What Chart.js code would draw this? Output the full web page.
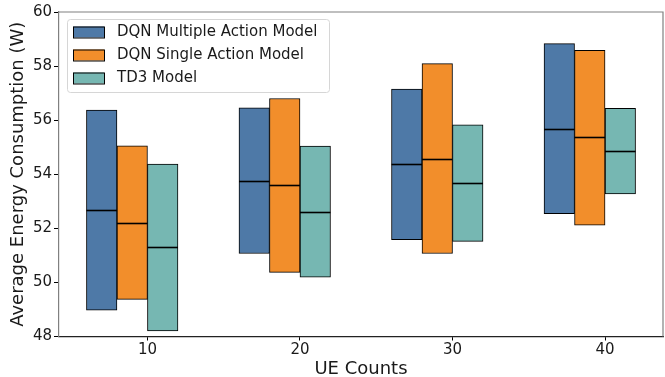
<!DOCTYPE html>
<html>
<head>
<meta charset="utf-8">
<script src="https://cdn.jsdelivr.net/npm/chart.js@4.4.0/dist/chart.umd.min.js"></script>
<style>
  html, body { margin: 0; padding: 0; background: #fff; }
</style>
</head>
<body>
<canvas id="c" width="665" height="377"></canvas>
<script>
// valeurs (min, max, médiane par modèle)
const ueCounts = [10, 20, 30, 40];
const seriesNames = ['DQN Multiple Action Model', 'DQN Single Action Model', 'TD3 Model'];
const multiMin = [48.97, 51.07, 51.58, 52.54];
const multiMax = [56.37, 56.46, 57.15, 58.83];
const multiMed = [52.67, 53.75, 54.37, 55.69];
const singleMin = [49.37, 50.37, 51.07, 52.12];
const singleMax = [55.05, 56.80, 58.09, 58.58];
const singleMed = [52.20, 53.59, 54.58, 55.36];
const td3Min = [48.21, 50.19, 51.52, 53.27];
const td3Max = [54.38, 55.04, 55.83, 56.44];
const td3Med = [51.30, 52.59, 53.68, 54.86];
const yTicks = [48, 50, 52, 54, 56, 58, 60];

const colors = ['#4e79a7', '#f28e2b', '#76b7b2'];
const offsets = [-3, -1, 1];
const mins = [multiMin, singleMin, td3Min];
const maxs = [multiMax, singleMax, td3Max];
const meds = [multiMed, singleMed, td3Med];
const FONT = "'DejaVu Sans', sans-serif";

const datasets = seriesNames.map((name, s) => ({
    label: name,
    data: ueCounts.map((u, i) => ({ x: u + offsets[s], y: [mins[s][i], maxs[s][i]] })),
    backgroundColor: colors[s],
    borderColor: '#000',
    borderWidth: 1,
    borderSkipped: false,
    grouped: false,
    barPercentage: 1,
    categoryPercentage: 1,
    medians: meds[s]
}));

// lignes médianes + cadre gris + légende dans la zone du graphe
const extras = {
    id: 'extras',
    afterDatasetsDraw(chart) {
        const ctx = chart.ctx;
        const y = chart.scales.y;
        ctx.save();
        ctx.strokeStyle = '#000';
        ctx.lineWidth = 1.6;
        chart.data.datasets.forEach((ds, d) => {
            chart.getDatasetMeta(d).data.forEach((bar, i) => {
                const py = Math.round(y.getPixelForValue(ds.medians[i])) + 0.5;
                ctx.beginPath();
                ctx.moveTo(bar.x - bar.width / 2, py);
                ctx.lineTo(bar.x + bar.width / 2, py);
                ctx.stroke();
            });
        });
        ctx.restore();
    },
    afterDraw(chart) {
        const ctx = chart.ctx;
        const a = chart.chartArea;
        ctx.save();
        ctx.strokeStyle = '#808080';
        ctx.lineWidth = 1.2;
        ctx.beginPath();
        ctx.moveTo(a.left, a.top);
        ctx.lineTo(a.right, a.top);
        ctx.lineTo(a.right, a.bottom);
        ctx.stroke();

        // légende
        const lx = a.left + 8, ly = a.top + 7, lw = 262, lh = 73;
        ctx.fillStyle = 'rgba(255,255,255,0.8)';
        ctx.strokeStyle = '#d6d6d6';
        ctx.lineWidth = 1;
        ctx.beginPath();
        ctx.roundRect(lx + 0.5, ly + 0.5, lw, lh, 3);
        ctx.fill();
        ctx.stroke();
        ctx.font = '15px ' + FONT;
        ctx.textBaseline = 'middle';
        chart.data.datasets.forEach((ds, d) => {
            const cy = ly + 13 + d * 23;
            ctx.fillStyle = ds.backgroundColor;
            ctx.fillRect(lx + 6, cy - 5.5, 31, 11);
            ctx.strokeStyle = '#000';
            ctx.strokeRect(lx + 6.5, cy - 5, 31, 11);
            ctx.fillStyle = '#1a1a1a';
            ctx.fillText(ds.label, lx + 50, cy + 0.5);
        });
        ctx.restore();
    }
};

new Chart(document.getElementById('c'), {
    type: 'bar',
    data: { datasets },
    options: {
        responsive: false,
        animation: false,
        layout: { padding: { left: 0, right: 2, top: 12, bottom: 0 } },
        plugins: {
            legend: { display: false },
            tooltip: { enabled: false }
        },
        scales: {
            x: {
                type: 'linear',
                min: 4.2,
                max: 43.8,
                offset: false,
                afterBuildTicks: s => { s.ticks = ueCounts.map(v => ({ value: v })); },
                afterFit: s => { s.height = 40.5; },
                grid: { drawOnChartArea: false, offset: false, color: '#000', tickLength: 4 },
                border: { color: '#222', width: 1.2 },
                ticks: { color: '#1a1a1a', font: { family: FONT, size: 15 }, padding: 1, maxRotation: 0 },
                title: {
                    display: true, text: 'UE Counts', color: '#1a1a1a',
                    font: { family: FONT, size: 18, lineHeight: 1 }, padding: { top: 0, bottom: -1 }
                }
            },
            y: {
                min: 48,
                max: 60,
                afterBuildTicks: s => { s.ticks = yTicks.map(v => ({ value: v })); },
                afterFit: s => { s.width = 59; },
                grid: { drawOnChartArea: false, color: '#000', tickLength: 5 },
                border: { color: '#808080', width: 1.2 },
                ticks: { color: '#1a1a1a', font: { family: FONT, size: 15 }, padding: 2 },
                title: {
                    display: true, text: 'Average Energy Consumption (W)', color: '#1a1a1a',
                    font: { family: FONT, size: 18, lineHeight: 1.2 }, padding: { top: 8, bottom: 0 }
                }
            }
        }
    },
    plugins: [extras]
});
</script>
</body>
</html>
